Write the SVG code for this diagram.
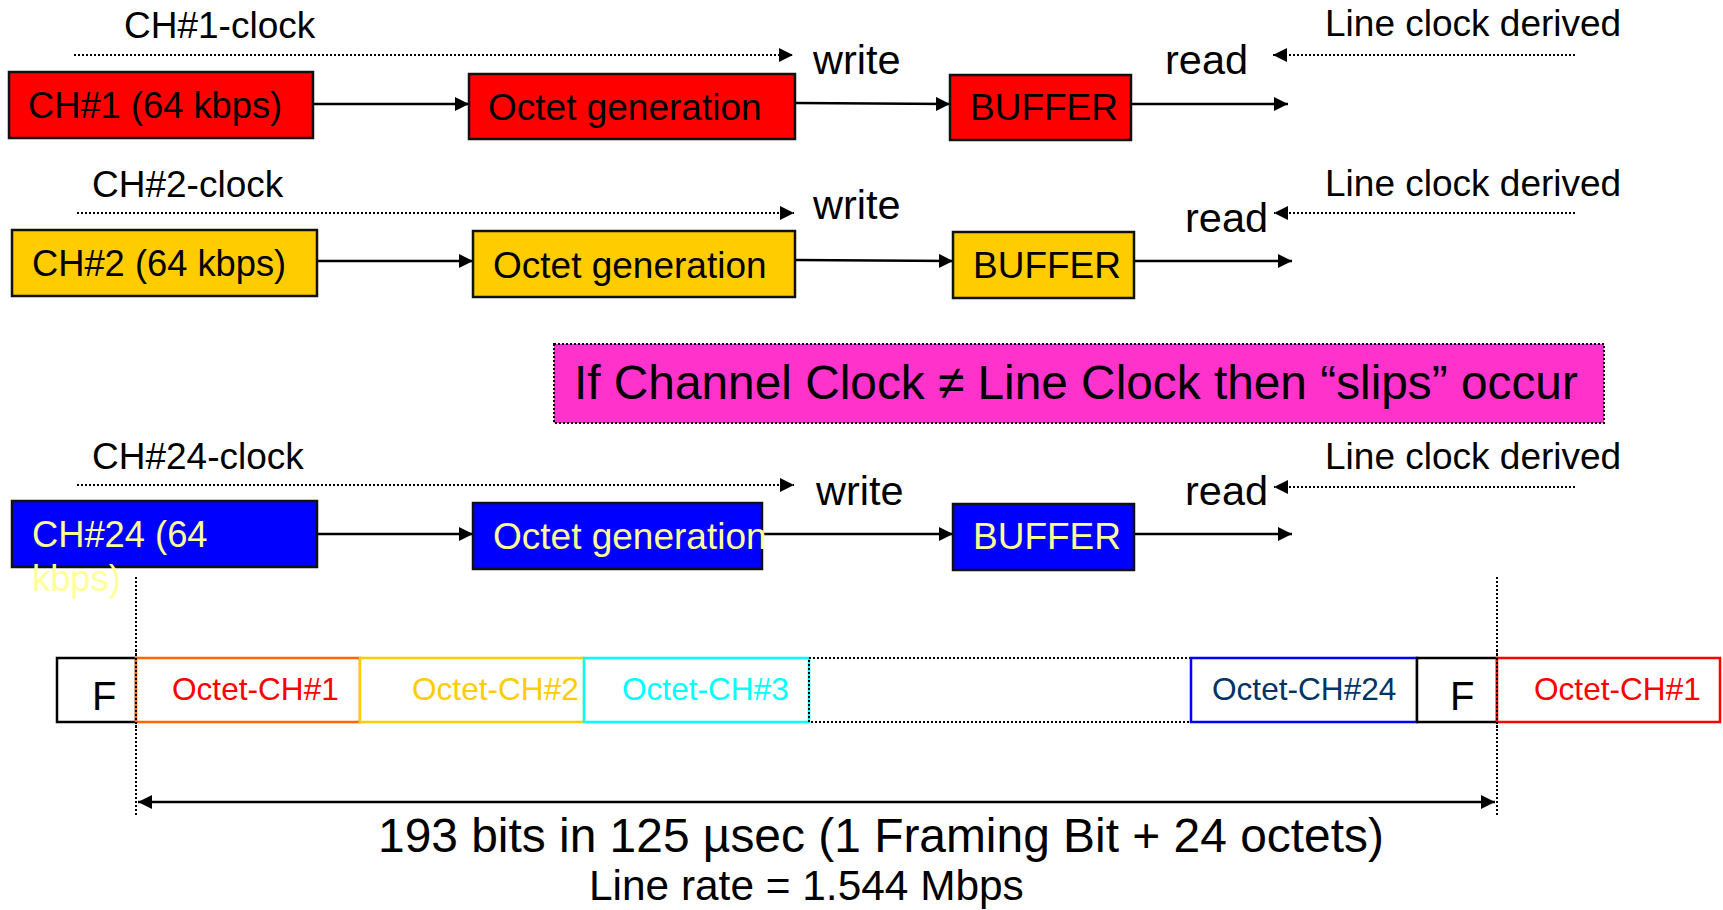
<svg xmlns="http://www.w3.org/2000/svg" width="1723" height="910" viewBox="0 0 1723 910">
  <style>
    text { font-family: "Liberation Sans", Arial, sans-serif; fill: #000; }
    .lbl { font-size: 37px; }
    .rw { font-size: 41.5px; }
    .chan { font-size: 36.3px; }
    .box { stroke: #111; stroke-width: 2.5; }
    .flow { stroke: #000; stroke-width: 2.5; fill: none; }
    .dot { stroke: #000; stroke-width: 2; stroke-dasharray: 2 2; fill: none; }
    .cell { fill: #fff; stroke-width: 2.5; }
    .oct { font-size: 31.6px; }
    .fbit { font-size: 40px; }
  </style>
  <defs>
    <marker id="ah" viewBox="0 0 10 10" refX="10" refY="5" markerWidth="14" markerHeight="14" markerUnits="userSpaceOnUse" orient="auto">
      <path d="M0,0 L10,5 L0,10 z" fill="#000"/>
    </marker>
    <marker id="ahs" viewBox="0 0 10 10" refX="10" refY="5" markerWidth="14" markerHeight="14" markerUnits="userSpaceOnUse" orient="auto-start-reverse">
      <path d="M0,0 L10,5 L0,10 z" fill="#000"/>
    </marker>
  </defs>

  <!-- connectors -->
  <g id="connectors">
    <!-- channel 1 -->
    <line class="dot" x1="74" y1="55" x2="793" y2="55" marker-end="url(#ah)"/>
    <line class="flow" x1="313" y1="104" x2="469" y2="104" marker-end="url(#ah)"/>
    <line class="flow" x1="796" y1="103" x2="950" y2="104" marker-end="url(#ah)"/>
    <line class="flow" x1="1131" y1="104" x2="1288" y2="104" marker-end="url(#ah)"/>
    <line class="dot" x1="1575" y1="55" x2="1273" y2="55" marker-end="url(#ah)"/>
    <!-- channel 2 -->
    <line class="dot" x1="77" y1="213" x2="794" y2="213" marker-end="url(#ah)"/>
    <line class="flow" x1="317" y1="261" x2="473" y2="261" marker-end="url(#ah)"/>
    <line class="flow" x1="796" y1="260" x2="953" y2="261" marker-end="url(#ah)"/>
    <line class="flow" x1="1134" y1="261" x2="1292" y2="261" marker-end="url(#ah)"/>
    <line class="dot" x1="1575" y1="213" x2="1274" y2="213" marker-end="url(#ah)"/>
    <!-- channel 24 -->
    <line class="dot" x1="77" y1="485" x2="794" y2="485" marker-end="url(#ah)"/>
    <line class="flow" x1="317" y1="534" x2="473" y2="534" marker-end="url(#ah)"/>
    <line class="flow" x1="762" y1="534" x2="953" y2="534" marker-end="url(#ah)"/>
    <line class="flow" x1="1134" y1="534" x2="1292" y2="534" marker-end="url(#ah)"/>
    <line class="dot" x1="1575" y1="487" x2="1274" y2="487" marker-end="url(#ah)"/>
    <!-- frame boundaries and span -->
    <line class="dot" x1="136" y1="577" x2="136" y2="815"/>
    <line class="dot" x1="1497" y1="577" x2="1497" y2="815"/>
    <line class="flow" x1="138" y1="802" x2="1495" y2="802" marker-start="url(#ahs)" marker-end="url(#ah)"/>
  </g>

  <!-- clock labels -->
  <g id="labels" class="lbl">
    <text x="124" y="38">CH#1-clock</text>
    <text class="rw" x="813" y="74">write</text>
    <text class="rw" x="1165" y="74">read</text>
    <text x="1325" y="36">Line clock derived</text>

    <text x="92" y="197">CH#2-clock</text>
    <text class="rw" x="813" y="219">write</text>
    <text class="rw" x="1185" y="232">read</text>
    <text x="1325" y="196">Line clock derived</text>

    <text x="92" y="469">CH#24-clock</text>
    <text class="rw" x="816" y="505">write</text>
    <text class="rw" x="1185" y="505">read</text>
    <text x="1325" y="469">Line clock derived</text>
  </g>

  <!-- channel 1 -->
  <g id="ch1">
    <rect class="box" x="9" y="72" width="304" height="66" fill="#FF0000"/>
    <text class="chan" x="28" y="118">CH#1 (64 kbps)</text>
  </g>
  <g id="octet1">
    <rect class="box" x="469" y="74" width="326" height="65" fill="#FF0000"/>
    <text class="lbl" x="488" y="120">Octet generation</text>
  </g>
  <g id="buffer1">
    <rect class="box" x="950" y="75" width="181" height="65" fill="#FF0000"/>
    <text class="lbl" x="970" y="120">BUFFER</text>
  </g>

  <!-- channel 2 -->
  <g id="ch2">
    <rect class="box" x="12" y="230" width="305" height="66" fill="#FFCC00"/>
    <text class="chan" x="32" y="276">CH#2 (64 kbps)</text>
  </g>
  <g id="octet2">
    <rect class="box" x="473" y="231" width="322" height="66" fill="#FFCC00"/>
    <text class="lbl" x="493" y="278">Octet generation</text>
  </g>
  <g id="buffer2">
    <rect class="box" x="953" y="232" width="181" height="66" fill="#FFCC00"/>
    <text class="lbl" x="973" y="278">BUFFER</text>
  </g>

  <!-- slip note -->
  <g id="note">
    <rect x="554" y="344" width="1050" height="79" fill="#FF33CC" stroke="#000" stroke-width="2" stroke-dasharray="2 2"/>
    <text x="574" y="399" font-size="47.8">If Channel Clock ≠ Line Clock then “slips” occur</text>
  </g>

  <!-- channel 24 -->
  <g id="ch24">
    <rect class="box" x="12" y="501" width="305" height="66" fill="#0000FF"/>
    <text class="chan" x="32" y="547" style="fill:#FFFF99">CH#24 (64</text>
    <text class="chan" x="32" y="591" style="fill:#FFFF99">kbps)</text>
  </g>
  <g id="octet24">
    <rect class="box" x="473" y="503" width="289" height="66" fill="#0000FF"/>
    <text class="lbl" x="493" y="549" style="fill:#FFFF99">Octet generation</text>
  </g>
  <g id="buffer24">
    <rect class="box" x="953" y="504" width="181" height="66" fill="#0000FF"/>
    <text class="lbl" x="973" y="549" style="fill:#FFFF99">BUFFER</text>
  </g>

  <!-- frame layout -->
  <g id="frame">
    <rect class="cell" x="57" y="658" width="79" height="64" stroke="#000"/>
    <text class="fbit" x="92" y="710">F</text>
    <rect class="cell" x="136" y="658" width="224" height="64" stroke="#FF6600"/>
    <text class="oct" x="172" y="700" style="fill:#FF0000">Octet-CH#1</text>
    <rect class="cell" x="360" y="658" width="224" height="64" stroke="#FFCC00"/>
    <text class="oct" x="412" y="700" style="fill:#FFCC00">Octet-CH#2</text>
    <rect class="cell" x="584" y="658" width="225" height="64" stroke="#00FFFF"/>
    <text class="oct" x="622" y="700" style="fill:#00FFFF">Octet-CH#3</text>
    <rect x="809" y="658" width="382" height="64" fill="none" stroke="#000" stroke-width="2" stroke-dasharray="2 2"/>
    <rect class="cell" x="1191" y="658" width="226" height="64" stroke="#0000FF"/>
    <text class="oct" x="1212" y="700" style="fill:#003366">Octet-CH#24</text>
    <rect class="cell" x="1417" y="658" width="80" height="64" stroke="#000"/>
    <text class="fbit" x="1450" y="710">F</text>
    <rect class="cell" x="1497" y="658" width="223" height="64" stroke="#FF0000"/>
    <text class="oct" x="1534" y="700" style="fill:#FF0000">Octet-CH#1</text>
    <line class="dot" x1="136" y1="650" x2="136" y2="730"/>
    <line class="dot" x1="1497" y1="650" x2="1497" y2="730"/>
  </g>

  <!-- frame period -->
  <g id="period">
    <text x="378" y="852" font-size="47.9">193 bits in 125 µsec (1 Framing Bit + 24 octets)</text>
    <text x="589" y="900" font-size="42.4">Line rate = 1.544 Mbps</text>
  </g>
</svg>
